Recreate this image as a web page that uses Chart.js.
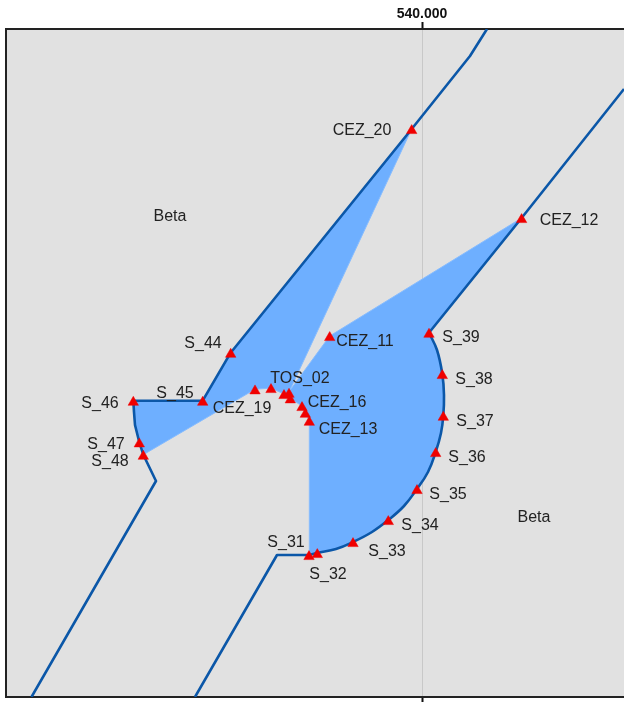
<!DOCTYPE html>
<html><head><meta charset="utf-8">
<style>html,body{margin:0;padding:0;background:#fff}canvas{display:block}</style>
<script src="https://cdn.jsdelivr.net/npm/chart.js@4"></script>
</head><body>
<div style="width:624px;height:702px"><canvas id="c"></canvas></div>
<script>
const xTickValues=[540000];
const xTickLabels=['540.000'];
const stationX=[539897,540996,539077,540070,540203,540213,540137,539950,539663,539310,538953,538870,538873,538833,538800,538683,538670,538620,538490,538330,538087,537807,537113,537173,537213];
const stationY=[195664,194774,193594,193627,193214,192797,192434,192064,191754,191534,191424,191404,192747,192827,192894,192971,193027,193014,193074,193061,193427,192947,192947,192531,192407];
const westLineX=[540650,540480,539897,538087,537807,537113,537120,537130,537173,537213,537340,536095];
const westLineY=[196680,196410,195680,193443,192963,192963,192850,192720,192547,192423,192160,190000];
const eastUpperX=[542020,540996,540070];
const eastUpperY=[196080,194790,193643];
const eastArcX=[540070,540150,540203,540220,540213,540190,540137,540060,539950,539820,539663,539500,539310,539140,538953,538870];
const eastArcY=[193643,193470,193230,193020,192813,192640,192450,192250,192080,191910,191770,191650,191550,191480,191440,191420];
const eastLowerX=[538870,538550,537730];
const eastLowerY=[191420,191420,190000];
const zoneX=[537113,537807,538087,539897,538675,539077,540996,540070,540150,540203,540220,540213,540190,540137,540060,539950,539820,539663,539500,539310,539140,538953,538870,538873,538833,538800,538683,538620,538490,538330,537213,537173,537130,537120];
const zoneY=[192963,192963,193443,195680,193060,193610,194790,193643,193470,193230,193020,192813,192640,192450,192250,192080,191910,191770,191650,191550,191480,191440,191420,192763,192843,192910,192987,193030,193090,193077,192423,192547,192720,192850];
const labelTexts=['CEZ_20','CEZ_12','CEZ_11','S_39','S_38','S_37','S_36','S_35','S_34','S_33','S_32','S_31','S_44','S_45','S_46','S_47','S_48','CEZ_19','TOS_02','CEZ_16','CEZ_13','Beta','Beta'];
const labelX=[539400,541470,539430,540390,540520,540530,540450,540260,539980,539650,539060,538640,537810,537530,536780,536840,536880,538200,538780,539150,539260,537480,541120];
const labelY=[195668,194768,193558,193598,193178,192758,192398,192028,191718,191458,191228,191548,193538,193038,192938,192528,192358,192888,193188,192948,192678,194805,191795];

const pts=(xs,ys)=>xs.map((x,i)=>({x,y:ys[i]}));
const lineStyle={showLine:true,fill:false,borderColor:'#0B57A8',borderWidth:2.6,pointRadius:0,order:2};
const mapPlugin={
  id:'mapPlugin',
  beforeDraw(ch){
    const a=ch.chartArea,c=ch.ctx;
    c.save();c.fillStyle='#E1E1E1';c.fillRect(a.left,a.top,a.right-a.left,a.bottom-a.top);c.restore();
  },
  afterDatasetsDraw(ch){
    const c=ch.ctx,sx=ch.scales.x,sy=ch.scales.y;
    c.save();c.font='16px "Liberation Sans", Arial, sans-serif';c.fillStyle='#222';c.textAlign='center';c.textBaseline='middle';
    labelTexts.forEach((t,i)=>c.fillText(t,sx.getPixelForValue(labelX[i]),sy.getPixelForValue(labelY[i])));
    c.restore();
  }
};
const noPad=s=>{s.paddingLeft=0;s.paddingRight=0;s.paddingTop=0;s.paddingBottom=0;};
new Chart(document.getElementById('c'),{
  type:'scatter',
  data:{datasets:[
    {label:'Zone',data:pts(zoneX,zoneY),showLine:true,fill:'shape',backgroundColor:'#6EAFFF',borderColor:'#86BCFF',borderWidth:1,pointRadius:0,tension:0,order:3},
    {label:'West boundary',data:pts(westLineX,westLineY),tension:0,...lineStyle},
    {label:'East upper',data:pts(eastUpperX,eastUpperY),tension:0,...lineStyle},
    {label:'East arc',data:pts(eastArcX,eastArcY),tension:0.4,...lineStyle},
    {label:'East lower',data:pts(eastLowerX,eastLowerY),tension:0,...lineStyle},
    {label:'Stations',data:pts(stationX,stationY),showLine:false,pointStyle:'triangle',pointRadius:6,pointBackgroundColor:'#F00000',pointBorderColor:'#F00000',pointBorderWidth:0.5,order:1}
  ]},
  plugins:[mapPlugin],
  options:{
    responsive:true,maintainAspectRatio:false,animation:false,
    layout:{autoPadding:false,padding:{left:6,top:0,right:0,bottom:0}},
    plugins:{legend:{display:false},tooltip:{enabled:false},title:{display:false}},
    elements:{line:{borderJoinStyle:'round'}},
    scales:{
      x:{type:'linear',position:'top',min:535840,max:542020,
        afterBuildTicks:s=>{s.ticks=xTickValues.map(value=>({value}));},
        afterFit:s=>{s.height=29;noPad(s);},
        ticks:{autoSkip:false,maxRotation:0,padding:-1,color:'#111',font:{family:'"Liberation Sans", Arial, sans-serif',size:14,weight:'bold'},callback:(v)=>xTickLabels[xTickValues.indexOf(v)]},
        grid:{color:'#C8C8C8',lineWidth:1,tickColor:'#111',tickWidth:2,tickLength:7},
        border:{display:true,color:'#222',width:2}},
      x2:{type:'linear',position:'bottom',min:535840,max:542020,
        afterBuildTicks:s=>{s.ticks=xTickValues.map(value=>({value}));},
        afterFit:s=>{s.height=5;noPad(s);},
        ticks:{display:false},
        grid:{drawOnChartArea:false,tickColor:'#111',tickWidth:2,tickLength:5},
        border:{display:true,color:'#222',width:2}},
      y:{type:'linear',position:'left',min:190000,max:196680,
        afterFit:s=>{s.width=0;noPad(s);},
        ticks:{display:false},
        grid:{display:false,drawTicks:false},
        border:{display:true,color:'#222',width:2}}
    }
  }
});
</script>
</body></html>
